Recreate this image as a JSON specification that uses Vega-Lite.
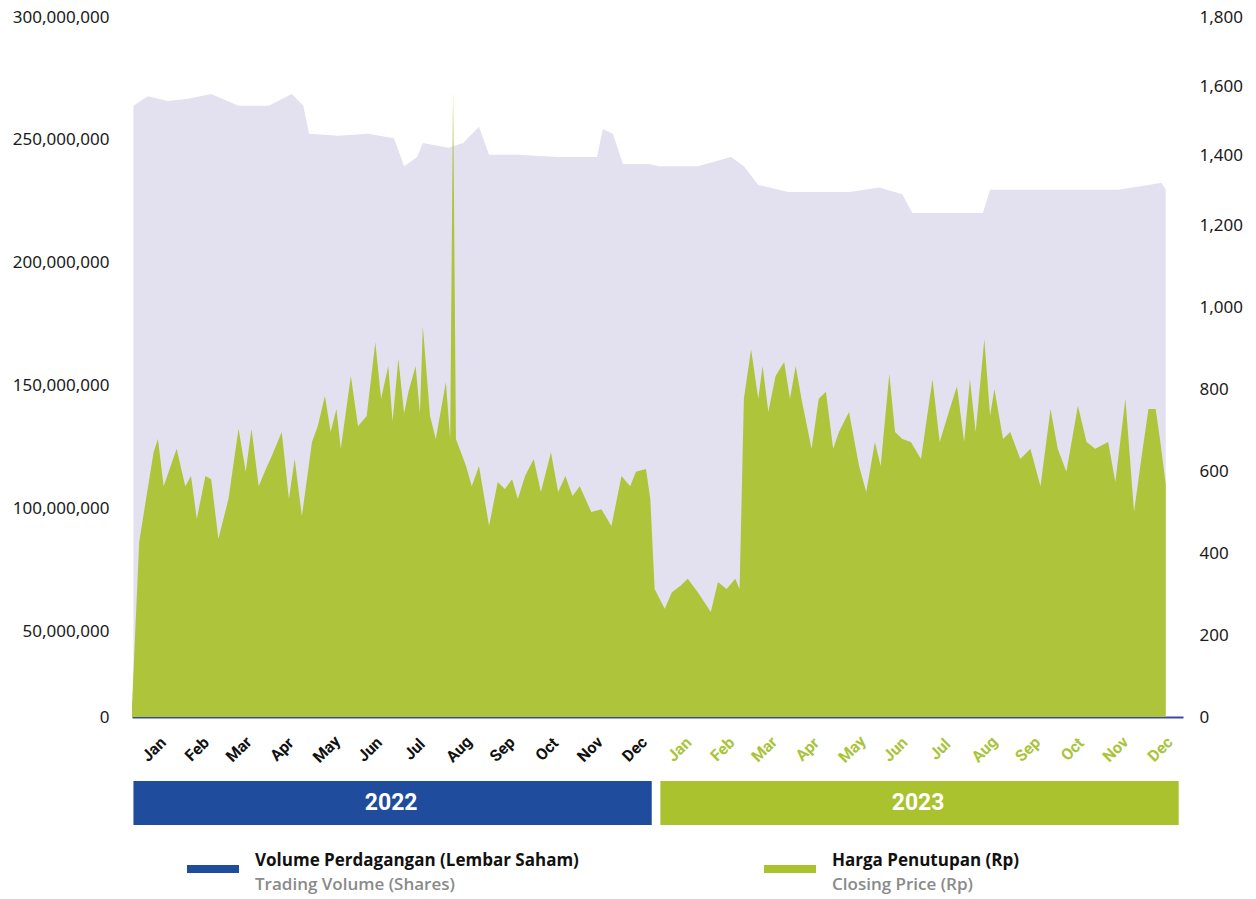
{
  "$schema": "https://vega.github.io/schema/vega-lite/v6.json",
  "padding": {"left": 12, "top": 8, "right": 5, "bottom": 0},
  "background": "white",
  "config": {"view": {"stroke": null}, "concat": {"spacing": 12}},
  "datasets": {
    "volume": [
      {"date": "2022-01-02", "volume": 263900000},
      {"date": "2022-01-12", "volume": 267700000},
      {"date": "2022-01-26", "volume": 265800000},
      {"date": "2022-02-09", "volume": 266700000},
      {"date": "2022-02-25", "volume": 268600000},
      {"date": "2022-03-16", "volume": 263900000},
      {"date": "2022-04-06", "volume": 263900000},
      {"date": "2022-04-22", "volume": 268600000},
      {"date": "2022-04-30", "volume": 263900000},
      {"date": "2022-05-04", "volume": 252500000},
      {"date": "2022-05-24", "volume": 251600000},
      {"date": "2022-06-14", "volume": 252500000},
      {"date": "2022-07-02", "volume": 250600000},
      {"date": "2022-07-09", "volume": 239200000},
      {"date": "2022-07-18", "volume": 243000000},
      {"date": "2022-07-22", "volume": 248700000},
      {"date": "2022-08-09", "volume": 246800000},
      {"date": "2022-08-19", "volume": 248700000},
      {"date": "2022-08-30", "volume": 255300000},
      {"date": "2022-09-06", "volume": 243900000},
      {"date": "2022-09-26", "volume": 243900000},
      {"date": "2022-10-24", "volume": 243000000},
      {"date": "2022-11-20", "volume": 243000000},
      {"date": "2022-11-24", "volume": 254400000},
      {"date": "2022-12-01", "volume": 252500000},
      {"date": "2022-12-08", "volume": 240100000},
      {"date": "2022-12-26", "volume": 240100000},
      {"date": "2023-01-02", "volume": 239200000},
      {"date": "2023-01-29", "volume": 239200000},
      {"date": "2023-02-21", "volume": 243000000},
      {"date": "2023-03-02", "volume": 239200000},
      {"date": "2023-03-12", "volume": 231600000},
      {"date": "2023-04-02", "volume": 228700000},
      {"date": "2023-05-14", "volume": 228700000},
      {"date": "2023-06-04", "volume": 230600000},
      {"date": "2023-06-20", "volume": 227800000},
      {"date": "2023-06-27", "volume": 220200000},
      {"date": "2023-08-15", "volume": 220200000},
      {"date": "2023-08-20", "volume": 229700000},
      {"date": "2023-10-07", "volume": 229700000},
      {"date": "2023-11-17", "volume": 229700000},
      {"date": "2023-12-08", "volume": 231600000},
      {"date": "2023-12-17", "volume": 232500000},
      {"date": "2023-12-20", "volume": 229700000}
    ],
    "price": [
      {"date": "2022-01-01", "price": 28},
      {"date": "2022-01-06", "price": 427},
      {"date": "2022-01-10", "price": 515},
      {"date": "2022-01-16", "price": 646},
      {"date": "2022-01-19", "price": 678},
      {"date": "2022-01-23", "price": 563},
      {"date": "2022-02-01", "price": 654},
      {"date": "2022-02-07", "price": 563},
      {"date": "2022-02-11", "price": 588},
      {"date": "2022-02-15", "price": 483},
      {"date": "2022-02-21", "price": 588},
      {"date": "2022-02-25", "price": 580},
      {"date": "2022-03-02", "price": 434},
      {"date": "2022-03-09", "price": 532},
      {"date": "2022-03-16", "price": 703},
      {"date": "2022-03-21", "price": 598},
      {"date": "2022-03-25", "price": 703},
      {"date": "2022-03-30", "price": 563},
      {"date": "2022-04-04", "price": 605},
      {"date": "2022-04-08", "price": 636},
      {"date": "2022-04-15", "price": 695},
      {"date": "2022-04-20", "price": 532},
      {"date": "2022-04-24", "price": 629},
      {"date": "2022-04-29", "price": 490},
      {"date": "2022-05-06", "price": 671},
      {"date": "2022-05-10", "price": 709},
      {"date": "2022-05-15", "price": 783},
      {"date": "2022-05-19", "price": 695},
      {"date": "2022-05-23", "price": 751},
      {"date": "2022-05-26", "price": 654},
      {"date": "2022-06-02", "price": 832},
      {"date": "2022-06-07", "price": 709},
      {"date": "2022-06-13", "price": 734},
      {"date": "2022-06-19", "price": 914},
      {"date": "2022-06-23", "price": 776},
      {"date": "2022-06-28", "price": 856},
      {"date": "2022-07-01", "price": 721},
      {"date": "2022-07-05", "price": 874},
      {"date": "2022-07-09", "price": 740},
      {"date": "2022-07-12", "price": 793},
      {"date": "2022-07-17", "price": 856},
      {"date": "2022-07-20", "price": 740},
      {"date": "2022-07-22", "price": 953},
      {"date": "2022-07-27", "price": 734},
      {"date": "2022-07-31", "price": 678},
      {"date": "2022-08-07", "price": 817},
      {"date": "2022-08-10", "price": 678},
      {"date": "2022-08-12", "price": 1587},
      {"date": "2022-08-14", "price": 678},
      {"date": "2022-08-21", "price": 612},
      {"date": "2022-08-25", "price": 563},
      {"date": "2022-08-30", "price": 612},
      {"date": "2022-09-06", "price": 466},
      {"date": "2022-09-12", "price": 573},
      {"date": "2022-09-17", "price": 556},
      {"date": "2022-09-22", "price": 580},
      {"date": "2022-09-26", "price": 532},
      {"date": "2022-10-01", "price": 588},
      {"date": "2022-10-07", "price": 629},
      {"date": "2022-10-12", "price": 549},
      {"date": "2022-10-19", "price": 646},
      {"date": "2022-10-24", "price": 549},
      {"date": "2022-10-29", "price": 588},
      {"date": "2022-11-03", "price": 539},
      {"date": "2022-11-08", "price": 563},
      {"date": "2022-11-16", "price": 500},
      {"date": "2022-11-23", "price": 507},
      {"date": "2022-11-30", "price": 466},
      {"date": "2022-12-07", "price": 588},
      {"date": "2022-12-13", "price": 563},
      {"date": "2022-12-17", "price": 598},
      {"date": "2022-12-24", "price": 605},
      {"date": "2022-12-27", "price": 532},
      {"date": "2022-12-30", "price": 312},
      {"date": "2023-01-06", "price": 264},
      {"date": "2023-01-11", "price": 304},
      {"date": "2023-01-17", "price": 320},
      {"date": "2023-01-22", "price": 337},
      {"date": "2023-01-29", "price": 304},
      {"date": "2023-02-07", "price": 256},
      {"date": "2023-02-12", "price": 329},
      {"date": "2023-02-18", "price": 312},
      {"date": "2023-02-24", "price": 337},
      {"date": "2023-02-27", "price": 312},
      {"date": "2023-03-02", "price": 776},
      {"date": "2023-03-07", "price": 897},
      {"date": "2023-03-12", "price": 776},
      {"date": "2023-03-15", "price": 856},
      {"date": "2023-03-19", "price": 744},
      {"date": "2023-03-24", "price": 832},
      {"date": "2023-03-30", "price": 866},
      {"date": "2023-04-03", "price": 776},
      {"date": "2023-04-07", "price": 856},
      {"date": "2023-04-11", "price": 776},
      {"date": "2023-04-18", "price": 654},
      {"date": "2023-04-23", "price": 776},
      {"date": "2023-04-28", "price": 793},
      {"date": "2023-05-03", "price": 654},
      {"date": "2023-05-07", "price": 695},
      {"date": "2023-05-14", "price": 744},
      {"date": "2023-05-21", "price": 612},
      {"date": "2023-05-26", "price": 549},
      {"date": "2023-06-01", "price": 671},
      {"date": "2023-06-05", "price": 612},
      {"date": "2023-06-11", "price": 837},
      {"date": "2023-06-15", "price": 695},
      {"date": "2023-06-20", "price": 678},
      {"date": "2023-06-26", "price": 671},
      {"date": "2023-07-03", "price": 629},
      {"date": "2023-07-11", "price": 824},
      {"date": "2023-07-16", "price": 671},
      {"date": "2023-07-23", "price": 751},
      {"date": "2023-07-28", "price": 807},
      {"date": "2023-08-02", "price": 671},
      {"date": "2023-08-06", "price": 824},
      {"date": "2023-08-10", "price": 695},
      {"date": "2023-08-16", "price": 922},
      {"date": "2023-08-20", "price": 734},
      {"date": "2023-08-23", "price": 800},
      {"date": "2023-08-29", "price": 678},
      {"date": "2023-09-03", "price": 695},
      {"date": "2023-09-10", "price": 629},
      {"date": "2023-09-17", "price": 654},
      {"date": "2023-09-24", "price": 563},
      {"date": "2023-10-01", "price": 751},
      {"date": "2023-10-06", "price": 654},
      {"date": "2023-10-12", "price": 598},
      {"date": "2023-10-20", "price": 759},
      {"date": "2023-10-26", "price": 671},
      {"date": "2023-11-01", "price": 654},
      {"date": "2023-11-10", "price": 671},
      {"date": "2023-11-15", "price": 573},
      {"date": "2023-11-22", "price": 776},
      {"date": "2023-11-28", "price": 500},
      {"date": "2023-12-03", "price": 629},
      {"date": "2023-12-08", "price": 751},
      {"date": "2023-12-13", "price": 751},
      {"date": "2023-12-16", "price": 678},
      {"date": "2023-12-20", "price": 569}
    ]
  },
  "vconcat": [
    {
      "width": 1051,
      "height": 700,
      "encoding": {
        "x": {
          "field": "date",
          "type": "temporal",
          "scale": {"domain": [{"year": 2022, "month": 1, "date": 1}, {"year": 2024, "month": 1, "date": 1}]},
          "axis": {
            "values": [
              {"year": 2022, "month": 1, "date": 16}, {"year": 2022, "month": 2, "date": 15}, {"year": 2022, "month": 3, "date": 16},
              {"year": 2022, "month": 4, "date": 15}, {"year": 2022, "month": 5, "date": 16}, {"year": 2022, "month": 6, "date": 15},
              {"year": 2022, "month": 7, "date": 16}, {"year": 2022, "month": 8, "date": 16}, {"year": 2022, "month": 9, "date": 15},
              {"year": 2022, "month": 10, "date": 16}, {"year": 2022, "month": 11, "date": 15}, {"year": 2022, "month": 12, "date": 16},
              {"year": 2023, "month": 1, "date": 16}, {"year": 2023, "month": 2, "date": 15}, {"year": 2023, "month": 3, "date": 16},
              {"year": 2023, "month": 4, "date": 15}, {"year": 2023, "month": 5, "date": 16}, {"year": 2023, "month": 6, "date": 15},
              {"year": 2023, "month": 7, "date": 16}, {"year": 2023, "month": 8, "date": 16}, {"year": 2023, "month": 9, "date": 15},
              {"year": 2023, "month": 10, "date": 16}, {"year": 2023, "month": 11, "date": 15}, {"year": 2023, "month": 12, "date": 16}
            ],
            "format": "%b",
            "title": null,
            "grid": false,
            "ticks": false,
            "domainColor": "#3c4a9b",
            "domainWidth": 2,
            "labelAngle": -45,
            "labelAlign": "center",
            "labelBaseline": "middle",
            "labelPadding": 32,
            "labelFont": "Roboto",
            "labelFontWeight": "bold",
            "labelFontSize": 16,
            "labelOverlap": false,
            "labelColor": {"condition": {"test": "year(datum.value) == 2022", "value": "#111111"}, "value": "#a9c43b"},
            "minExtent": 52,
            "maxExtent": 52
          }
        }
      },
      "layer": [
        {
          "data": {"name": "volume"},
          "mark": {"type": "area", "color": "#e3e1f0"},
          "encoding": {
            "y": {
              "field": "volume",
              "type": "quantitative",
              "scale": {"domain": [0, 50000000, 300000000], "range": [700, 614, 0]},
              "axis": {
                "orient": "left",
                "values": [0, 50000000, 100000000, 150000000, 200000000, 250000000, 300000000],
                "format": ",d",
                "title": null,
                "grid": false,
                "ticks": false,
                "domain": false,
                "labelFont": "Noto Sans",
                "labelFontSize": 17,
                "labelColor": "#1a1a1a",
                "labelPadding": 23
              }
            }
          }
        },
        {
          "data": {"name": "price"},
          "mark": {"type": "area", "color": "#aec43a"},
          "encoding": {
            "y": {
              "field": "price",
              "type": "quantitative",
              "scale": {"domain": [0, 1200, 1800], "range": [700, 208, 0]},
              "axis": {
                "orient": "right",
                "values": [0, 200, 400, 600, 800, 1000, 1200, 1400, 1600, 1800],
                "format": ",d",
                "title": null,
                "grid": false,
                "ticks": false,
                "domain": false,
                "labelFont": "Noto Sans",
                "labelFontSize": 17,
                "labelColor": "#1a1a1a",
                "labelPadding": 16
              }
            }
          }
        }
      ],
      "resolve": {"scale": {"y": "independent"}}
    },
    {
      "width": 1051,
      "height": 44,
      "data": {"values": [
        {"year": "2022", "start": "2022-01-02", "end": "2022-12-28", "mid": "2022-06-30"},
        {"year": "2023", "start": "2023-01-03", "end": "2023-12-29", "mid": "2023-07-01"}
      ]},
      "layer": [
        {
          "mark": {"type": "rect"},
          "encoding": {
            "x": {"field": "start", "type": "temporal", "scale": {"domain": [{"year": 2022, "month": 1, "date": 1}, {"year": 2024, "month": 1, "date": 1}]}, "axis": null},
            "x2": {"field": "end"},
            "color": {"field": "year", "type": "nominal", "scale": {"domain": ["2022", "2023"], "range": ["#1f4c9c", "#a9c22e"]}, "legend": null}
          }
        },
        {
          "mark": {"type": "text", "color": "white", "font": "Roboto", "fontWeight": "bold", "fontSize": 23},
          "encoding": {
            "x": {"field": "mid", "type": "temporal", "scale": {"domain": [{"year": 2022, "month": 1, "date": 1}, {"year": 2024, "month": 1, "date": 1}]}, "axis": null},
            "text": {"field": "year", "type": "nominal"}
          }
        }
      ]
    },
    {
      "width": 1051,
      "height": 64,
      "data": {"values": [
        {"item": "vol", "title": "Volume Perdagangan (Lembar Saham)", "sub": "Trading Volume (Shares)"},
        {"item": "price", "title": "Harga Penutupan (Rp)", "sub": "Closing Price (Rp)"}
      ]},
      "encoding": {
        "x": {"field": "item", "type": "nominal", "scale": {"type": "point", "domain": ["vol", "price"], "range": [81, 658], "padding": 0}, "axis": null}
      },
      "layer": [
        {
          "mark": {"type": "tick", "orient": "horizontal", "size": 52, "thickness": 8, "opacity": 1},
          "encoding": {
            "color": {"field": "item", "type": "nominal", "scale": {"domain": ["vol", "price"], "range": ["#1b3a8e", "#92bd2a"]}, "legend": null}
          }
        },
        {
          "mark": {"type": "text", "align": "left", "dx": 42, "dy": -8, "font": "Open Sans", "fontWeight": "bold", "fontSize": 17, "color": "#111111"},
          "encoding": {"text": {"field": "title", "type": "nominal"}}
        },
        {
          "mark": {"type": "text", "align": "left", "dx": 42, "dy": 16, "font": "Open Sans", "fontWeight": 600, "fontSize": 17, "color": "#8a8a8a"},
          "encoding": {"text": {"field": "sub", "type": "nominal"}}
        }
      ]
    }
  ]
}
